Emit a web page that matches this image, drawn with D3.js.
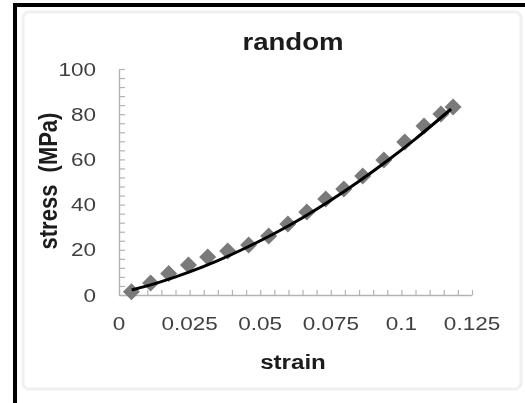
<!DOCTYPE html>
<html lang="en">
<head>
<meta charset="UTF-8">
<title>random</title>
<style>
    body { margin: 0; background: #fff; }
    svg { display: block; }
    text { font-family: "Liberation Sans", Arial, sans-serif; }
    .tick-label { fill: #404040; font-size: 18px; }
    .title { fill: #1a1a1a; font-weight: bold; }
</style>
<script src="https://d3js.org/d3.v7.min.js"></script>
</head>
<body>
<svg id="chart" width="525" height="403"></svg>
<script>
// measured points (diamonds)
const strain = [0.0044, 0.0112, 0.0176, 0.0246, 0.0314, 0.0385, 0.0459, 0.0530, 0.0598,
                0.0665, 0.0732, 0.0796, 0.0863, 0.0938, 0.1012, 0.1080, 0.1140, 0.1183];
const stress = [1.4, 5.3, 9.5, 13.3, 16.8, 19.5, 22.1, 26.1, 31.4,
                36.7, 42.5, 46.9, 52.7, 59.7, 67.7, 74.8, 80.1, 83.2];

// trend line
const fitStrain = [0.0045, 0.015, 0.025, 0.035, 0.045, 0.055, 0.065, 0.075, 0.085, 0.095, 0.105, 0.1176];
const fitStress = [2.2, 5.9, 10.2, 15.2, 20.9, 27.2, 34.2, 41.9, 50.3, 59.4, 69.1, 82.3];

const xTicks = [0, 0.025, 0.05, 0.075, 0.1, 0.125];
const xTickLabels = ["0", "0.025", "0.05", "0.075", "0.1", "0.125"];
const yTicks = [0, 20, 40, 60, 80, 100];
const yTickLabels = ["0", "20", "40", "60", "80", "100"];

const svg = d3.select("#chart");

const defs = svg.append("defs");
defs.append("filter").attr("id", "soft")
    .append("feGaussianBlur").attr("stdDeviation", 0.5);

// black frame (left and top edges of the screenshot)
svg.append("rect").attr("x", 13).attr("y", 3).attr("width", 4).attr("height", 400).attr("fill", "#000");
svg.append("rect").attr("x", 13).attr("y", 3).attr("width", 512).attr("height", 4).attr("fill", "#000");

// chart panel
svg.append("rect")
    .attr("x", 23).attr("y", 12).attr("width", 498).attr("height", 377)
    .attr("rx", 6)
    .attr("fill", "#fff")
    .attr("stroke", "#f0f0f0")
    .attr("stroke-width", 3);

const g = svg.append("g").attr("filter", "url(#soft)");

const x = d3.scaleLinear().domain([0, 0.125]).range([119, 472]);
const y = d3.scaleLinear().domain([0, 100]).range([295, 69]);

const minorX = d3.range(0, 0.1251, 0.005);
const minorY = d3.range(0, 100.1, 4);

// x axis: ticks pointing up
const xAxis = g.append("g")
    .attr("transform", "translate(0," + y(0) + ")")
    .call(d3.axisBottom(x).tickValues(minorX).tickSize(-5).tickSizeOuter(0).tickFormat(""));

// y axis: ticks pointing right
const yAxis = g.append("g")
    .attr("transform", "translate(" + x(0) + ",0)")
    .call(d3.axisLeft(y).tickValues(minorY).tickSize(-6).tickSizeOuter(0).tickFormat(""));

[xAxis, yAxis].forEach(function (a) {
    a.select(".domain").attr("stroke", "#b3b3b3").attr("stroke-width", 1.4);
    a.selectAll(".tick line").attr("stroke", "#b3b3b3").attr("stroke-width", 1.2);
});

// tick labels
g.selectAll(".xlab")
    .data(xTicks)
    .enter().append("text")
    .attr("class", "tick-label")
    .attr("text-anchor", "middle")
    .attr("transform", (d, i) => "translate(" + x(d) + ",330) scale(1.25,1)")
    .text((d, i) => xTickLabels[i]);

g.selectAll(".ylab")
    .data(yTicks)
    .enter().append("text")
    .attr("class", "tick-label")
    .attr("text-anchor", "end")
    .attr("transform", d => "translate(96," + (y(d) + 6.5) + ") scale(1.25,1)")
    .text((d, i) => yTickLabels[i]);

// titles
g.append("text")
    .attr("class", "title")
    .attr("text-anchor", "middle")
    .attr("font-size", 23)
    .attr("transform", "translate(293,50) scale(1.2,1)")
    .text("random");

g.append("text")
    .attr("class", "title")
    .attr("text-anchor", "middle")
    .attr("font-size", 21)
    .attr("transform", "translate(293,369) scale(1.15,1)")
    .text("strain");

g.append("text")
    .attr("class", "title")
    .attr("text-anchor", "middle")
    .attr("font-size", 22)
    .style("white-space", "pre")
    .attr("transform", "translate(57,181) scale(1.2,1) rotate(-90)")
    .text("stress  (MPa)");

// diamonds
const points = strain.map((s, i) => ({ s: s, p: stress[i] }));
g.selectAll(".pt")
    .data(points)
    .enter().append("path")
    .attr("class", "pt")
    .attr("d", d3.symbol().type(d3.symbolSquare).size(145))
    .attr("transform", d => "translate(" + x(d.s) + "," + y(d.p) + ") rotate(45)")
    .attr("fill", "#7a7a7a");

// trend line
const fit = fitStrain.map((s, i) => [s, fitStress[i]]);
g.append("path")
    .datum(fit)
    .attr("d", d3.line().x(d => x(d[0])).y(d => y(d[1])).curve(d3.curveMonotoneX))
    .attr("fill", "none")
    .attr("stroke", "#000")
    .attr("stroke-width", 3);
</script>
</body>
</html>
